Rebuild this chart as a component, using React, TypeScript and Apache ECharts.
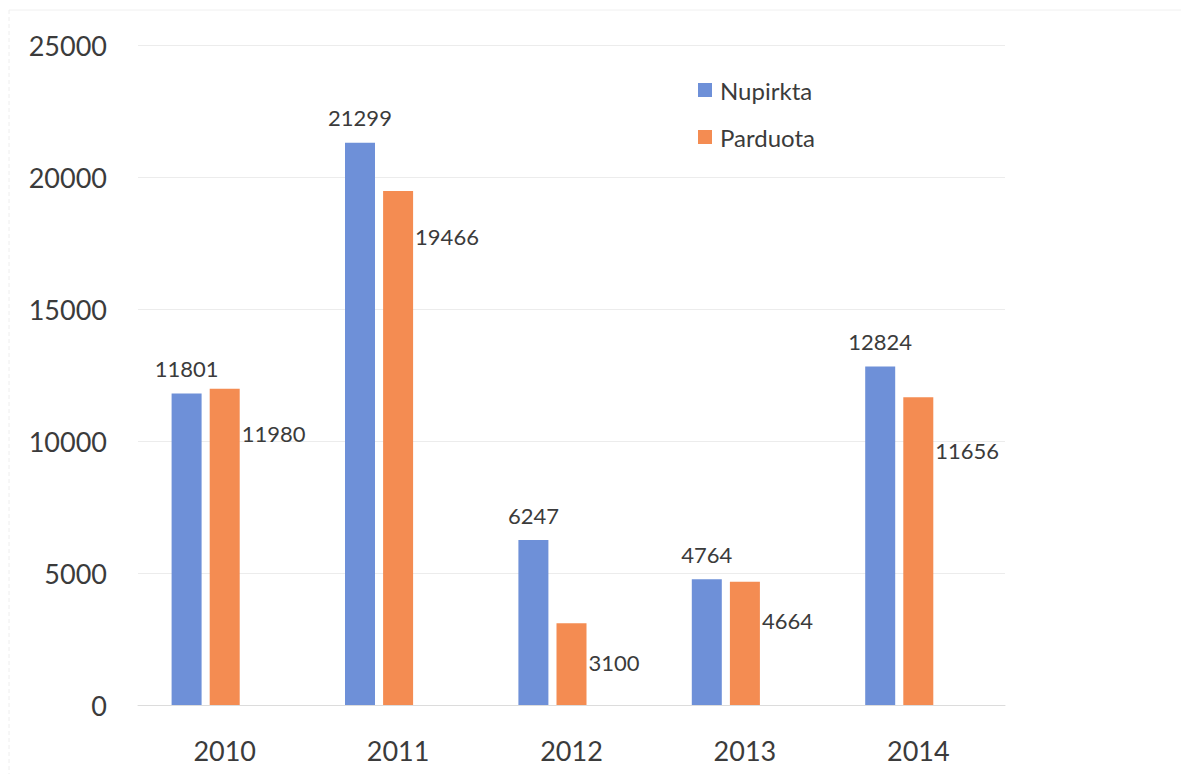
import React, { useEffect, useRef } from "react";
import * as echarts from "echarts";

const categories = ["2010", "2011", "2012", "2013", "2014"];
const nupirkta = [11801, 21299, 6247, 4764, 12824];
const parduota = [11980, 19466, 3100, 4664, 11656];
const emptySeries = [null, null, null, null, null];
const parduotaLabelOffsets = [45, 45, 39, 39, 53];

const FONT = "Lato";
const TEXT = "#3b3b3b";

export default function App() {
  const ref = useRef<HTMLDivElement>(null);
  useEffect(() => {
    if (!ref.current) return;
    const chart = echarts.init(ref.current, null, { renderer: "svg" });
    chart.setOption({
      animation: false,
      backgroundColor: "#ffffff",
      textStyle: { fontFamily: FONT, color: TEXT },
      grid: { left: 138, right: 176, top: 45, bottom: 69, containLabel: false },
      legend: {
        data: ["Nupirkta", "Parduota"],
        orient: "vertical",
        left: 693,
        top: 73,
        itemWidth: 14,
        itemHeight: 14,
        itemGap: 23,
        icon: "rect",
        textStyle: { fontFamily: FONT, fontSize: 24, color: TEXT, padding: [0, 0, 0, 3] },
      },
      xAxis: {
        type: "category",
        data: categories,
        axisLine: { show: true, lineStyle: { color: "#dcdcdc", width: 1 } },
        axisTick: { show: false },
        axisLabel: { fontFamily: FONT, fontSize: 27, color: TEXT, margin: 32 },
      },
      yAxis: {
        type: "value",
        min: 0,
        max: 25000,
        interval: 5000,
        axisLine: { show: false },
        axisTick: { show: false },
        splitLine: { lineStyle: { color: "#ececec", width: 1 } },
        axisLabel: {
          fontFamily: FONT,
          fontSize: 27,
          color: TEXT,
          margin: 31,
          formatter: (v: number) => String(v),
        },
      },
      series: [
        {
          name: "Nupirkta",
          type: "bar",
          data: nupirkta,
          barWidth: 30,
          barGap: "27%",
          itemStyle: { color: "#6e90d8" },
          label: {
            show: true,
            position: "top",
            distance: 14,
            fontFamily: FONT,
            fontSize: 22,
            color: TEXT,
          },
        },
        {
          name: "Parduota",
          type: "bar",
          data: parduota.map((v, i) => ({
            value: v,
            label: { position: ["100%", parduotaLabelOffsets[i]] },
          })),
          barWidth: 30,
          itemStyle: { color: "#f48c52" },
          label: {
            show: true,
            position: ["100%", 45],
            offset: [2, 0],
            align: "left",
            verticalAlign: "middle",
            fontFamily: FONT,
            fontSize: 22,
            color: TEXT,
          },
        },
        {
          name: "",
          type: "bar",
          data: emptySeries,
          barWidth: 30,
          itemStyle: { color: "transparent" },
        },
      ],
      graphic: [
        {
          type: "line",
          shape: { x1: 9, y1: 10, x2: 1181, y2: 10 },
          style: { stroke: "#f0f0f0", lineWidth: 1 },
          silent: true,
        },
        {
          type: "line",
          shape: { x1: 9, y1: 10, x2: 9, y2: 774 },
          style: { stroke: "#eeeeee", lineWidth: 1, lineDash: [4, 3] },
          silent: true,
        },
      ],
    });
    return () => chart.dispose();
  }, []);
  return (
    <div
      ref={ref}
      style={{ position: "fixed", left: 0, top: 0, width: 1181, height: 774 }}
    />
  );
}
